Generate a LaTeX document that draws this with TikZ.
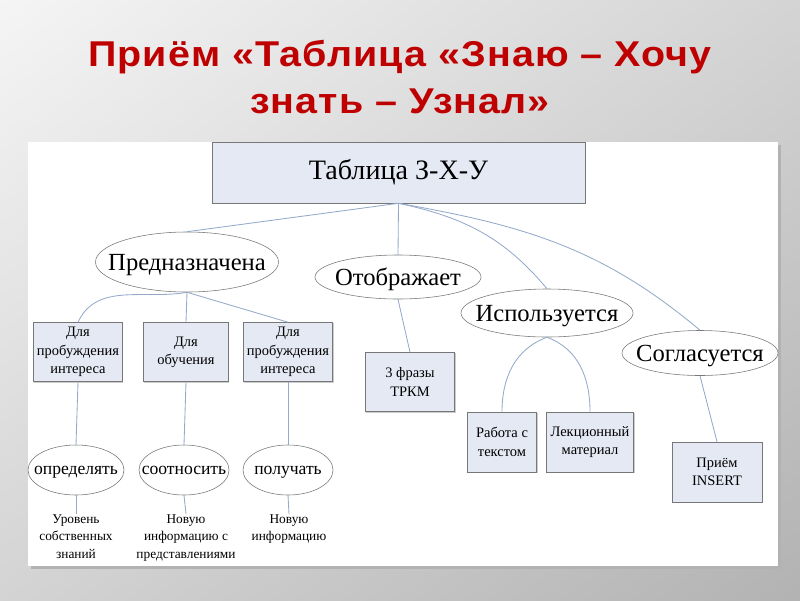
\documentclass[tikz,border=0pt]{standalone}
\usepackage{fontspec}
\setmainfont{Liberation Serif}
\newfontfamily\zhutitlefont[FakeStretch=1.1,LetterSpace=3]{Liberation Sans}
\usepackage{xcolor}
\definecolor{zhured}{HTML}{BE0000}
\definecolor{zhufill}{HTML}{E5E9F4}
\definecolor{zhuedge}{HTML}{777777}
\definecolor{zhulinkc}{HTML}{94AACB}
\usepackage{tikz}
\usetikzlibrary{shapes.geometric,shadings,shadows}
\tikzset{
  zhubox/.style={draw=zhuedge,fill=zhufill,align=center,inner sep=2pt,font=\fontsize{10.3}{13}\selectfont,minimum height=1.475cm,
    drop shadow={shadow xshift=0.7pt,shadow yshift=-0.7pt,opacity=0.4}},
  zhuoval/.style={draw=zhuedge,fill=white,ellipse,inner xsep=-10pt,inner ysep=0pt,text depth=0pt,font=\fontsize{17.5}{20}\selectfont},
  zhusmall/.style={zhuoval,minimum height=1.25cm,font=\fontsize{12.5}{15}\selectfont},
  zhulink/.style={draw=zhulinkc,line width=0.6pt},
  zhunote/.style={align=center,inner sep=0pt,anchor=north,font=\fontsize{9.5}{12.5}\selectfont},
}

\begin{document}
\begin{tikzpicture}[x=0.025cm,y=0.025cm]
\shade[upper left=black!4,upper right=black!17,lower left=black!17,lower right=black!30] (0,0) rectangle (800,-600);
\useasboundingbox (0,0) rectangle (800,-600);
\fill[black!30] (31,-145) rectangle (781,-569);
\fill[white] (28,-142) rectangle (778,-566);
\node[font=\zhutitlefont\bfseries\fontsize{25.5}{33.4}\selectfont,text=zhured,align=center] (title) at (400,-77) {Приём «Таблица «Знаю – Хочу\\знать – Узнал»};
\node[zhubox,minimum width=9.325cm,minimum height=1.525cm,font=\fontsize{20}{24}\selectfont] (top) at (398.5,-172.5) {Таблица З-Х-У};
\node[zhuoval,minimum width=4.5cm,minimum height=1.5cm] (pred) at (187,-262) {Предназначена};
\node[zhuoval,minimum width=4.15cm,minimum height=1.1cm] (otob) at (398,-277) {Отображает};
\node[zhuoval,minimum width=4.3cm,minimum height=1.2cm] (ispol) at (547,-313) {Используется};
\node[zhuoval,minimum width=3.9cm,minimum height=1.125cm] (sogl) at (700,-353) {Согласуется};
\node[zhubox,minimum width=2.225cm] (probud) at (78,-352) {Для\\пробуждения\\интереса};
\node[zhubox,minimum width=2.125cm] (obuch) at (186,-352) {Для\\обучения};
\node[zhubox,minimum width=2.225cm] (interes) at (288,-352) {Для\\пробуждения\\интереса};
\node[zhusmall,minimum width=2.4cm] (opred) at (76,-470) {определять};
\node[zhusmall,minimum width=2.25cm] (sootn) at (184,-470) {соотносить};
\node[zhusmall,minimum width=2.25cm] (poluch) at (288,-470) {получать};
\node[zhunote] (uroven) at (76,-514) {Уровень\\собственных\\знаний};
\node[zhunote] (novinf) at (186,-514) {Новую\\информацию с\\представлениями};
\node[zhunote] (novuyu) at (289,-514) {Новую\\информацию};
\node[zhubox,minimum width=2.225cm] (trkm) at (410,-382) {3 фразы\\ТРКМ};
\node[zhubox,minimum width=1.725cm,minimum height=1.5cm] (rabota) at (502,-442) {Работа с\\текстом};
\node[zhubox,minimum width=2.175cm,minimum height=1.5cm] (lekc) at (590,-442) {Лекционный\\материал};
\node[zhubox,minimum width=2.25cm,minimum height=1.5cm] (insert) at (717,-472) {Приём\\INSERT};
\draw[zhulink] (top.south) -- (pred.north);
\draw[zhulink] (top.south) -- (otob.north);
\draw[zhulink] (top.south) to[out=-12,in=130] (ispol.north);
\draw[zhulink] (top.south) to[out=-10,in=140] (sogl.north);
\draw[zhulink] (pred.south) to[out=190,in=65] (probud.north);
\draw[zhulink] (pred.south) -- (obuch.north);
\draw[zhulink] (pred.south) -- (interes.north);
\draw[zhulink] (probud.south) -- (opred.north);
\draw[zhulink] (obuch.south) -- (sootn.north);
\draw[zhulink] (interes.south) -- (poluch.north);
\draw[zhulink] (opred.south) -- (uroven.north);
\draw[zhulink] (sootn.south) -- (novinf.north);
\draw[zhulink] (poluch.south) -- (novuyu.north);
\draw[zhulink] (otob.south) -- (trkm.north);
\draw[zhulink] (ispol.south) to[out=200,in=90] (rabota.north);
\draw[zhulink] (ispol.south) to[out=-20,in=90] (lekc.north);
\draw[zhulink] (sogl.south) -- (insert.north);
\end{tikzpicture}
\end{document}
